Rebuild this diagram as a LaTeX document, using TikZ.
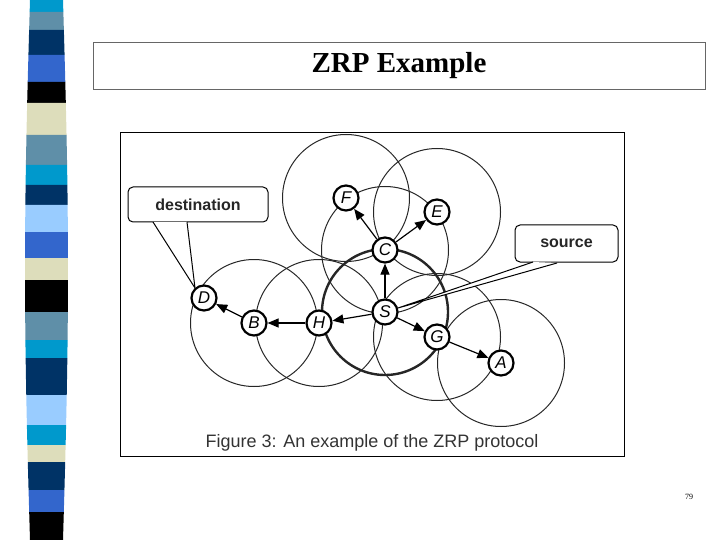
\documentclass[tikz,border=0pt]{standalone}
\usepackage{fontspec}
\setmainfont{Liberation Serif}
\newfontfamily\figsans{Liberation Sans}
\usetikzlibrary{arrows.meta}
\definecolor{scyan}{HTML}{0099CC}
\definecolor{ssteel}{HTML}{5F8FA8}
\definecolor{snavy}{HTML}{003366}
\definecolor{sroyal}{HTML}{3366CC}
\definecolor{sbeige}{HTML}{DDDDBB}
\definecolor{slight}{HTML}{99CCFF}
\tikzset{
 nd/.style={circle,draw,fill=white,line width=2.2pt,minimum size=25pt,inner sep=0pt,font=\figsans\itshape\fontsize{17}{18}\selectfont},
 zone/.style={draw,line width=1pt,black!85},
 arr/.style={-{Triangle[length=11pt,width=9pt]},line width=1.2pt},
 callout/.style={draw,rounded corners=5pt,line width=1pt,font=\figsans\bfseries\fontsize{16}{18}\selectfont,inner sep=0pt,text=black!85}
}
\begin{document}
\begin{tikzpicture}[x=1pt,y=-1pt]
\useasboundingbox (0,0) rectangle (720,540);
% stripe
\foreach \a/\b/\c in {0/12/scyan,12/30/ssteel,30/55/snavy,55/82/sroyal,82/103/black,103/135/sbeige,135/165/ssteel,165/185/scyan,185/205/snavy,205/232/slight,232/258/sroyal,258/280/sbeige,280/312/black,312/340/ssteel,340/358/scyan,358/395/snavy,395/425/slight,425/445/scyan,445/462/sbeige,462/490/snavy,490/512/sroyal,512/540/black}{
 \pgfmathsetmacro\la{30-5*sin(\a/540*180)}\pgfmathsetmacro\lb{30-5*sin(\b/540*180)}
 \pgfmathsetmacro\ra{63+5*sin(\a/540*180)}\pgfmathsetmacro\rb{63+5*sin(\b/540*180)}
 \fill[\c] (\la,\a) -- (\ra,\a) -- (\rb,\b) -- (\lb,\b) -- cycle;}
% title
\node[draw=black!60,minimum width=612pt,minimum height=47pt,inner sep=0pt,font=\bfseries\fontsize{29}{32}\selectfont] (title) at (399,65.5) {ZRP Example};
\node[draw,line width=0.8pt,minimum width=504pt,minimum height=324pt,inner sep=0pt] (frame) at (372,294) {};
% zones
\foreach \n/\p in {F/{346,198},E/{437,212},C/{385,250},B/{254,323},H/{319,323},G/{437,337},A/{501,363}}{\draw[zone] (\p) circle (63.5);}
\draw[line width=2.4pt,black!85] (385,312) circle (63);
% nodes
\node[nd] (S) at (385,312) {S};
\node[nd] (C) at (385,250) {C};
\node[nd] (F) at (346,198) {F};
\node[nd] (E) at (437,212) {E};
\node[nd] (D) at (204,298) {D};
\node[nd] (B) at (254,323) {B};
\node[nd] (H) at (319,323) {H};
\node[nd] (G) at (437,337) {G};
\node[nd] (A) at (501,363) {A};
% arrows
\draw[arr] (S) -- (C);
\draw[arr] (C) -- (F);
\draw[arr] (C) -- (E);
\draw[arr] (S) -- (H);
\draw[arr] (H) -- (B);
\draw[arr] (B) -- (D);
\draw[arr] (S) -- (G);
\draw[arr] (G) -- (A);
% callouts
\node[callout,minimum width=140pt,minimum height=35pt,fill=white] (dest) at (198,204.5) {destination};
\node[callout,minimum width=103pt,minimum height=37pt,fill=white] (src) at (566.5,243.5) {source};
\coordinate (d1) at (153,222);\coordinate (d2) at (187,222);
\coordinate (s1) at (533,262);\coordinate (s2) at (557,263);
\coordinate (dp) at (195,288);\coordinate (sp) at (398,308);
\fill[white] (d1) -- (dp) -- (d2) -- cycle;
\draw[line width=1pt] (d1) -- (dp) -- (d2);
\fill[white] (s1) -- (sp) -- (s2) -- cycle;
\draw[line width=1pt] (s1) -- (sp) -- (s2);
\node[font=\figsans\fontsize{18}{20}\selectfont,text=black!80] (cap) at (372,443) {Figure 3: An example of the ZRP protocol};
\node[font=\fontsize{8}{9}\selectfont] (pg) at (689,497) {79};
\end{tikzpicture}
\end{document}
